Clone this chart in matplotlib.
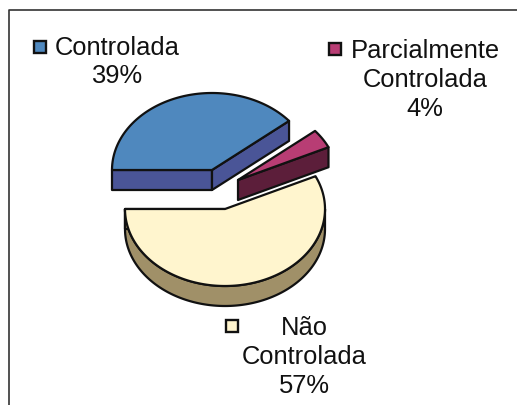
import numpy as np
import matplotlib
matplotlib.use("Agg")
import matplotlib.pyplot as plt
from matplotlib.patches import Polygon, Rectangle

categories = ["Controlada", "Parcialmente\nControlada", "Não\nControlada"]
values = [39, 4, 57]
face_colors = ["#4F88BE", "#B83D74", "#FFF5CE"]
side_colors = ["#4A5597", "#5C1E3A", "#A09068"]

# layout, in pixels
centers = [(212, 171), (238, 181), (225, 210)]
label_pos = [(117, 62), (425, 80), (304, 357)]
marker_pos = [(40, 48), (335, 50), (232, 327)]
RX, RY, DEPTH = 100, 77, 20
START = 180.0
EDGE = "#111111"

plt.rcParams["font.family"] = ["Liberation Sans", "DejaVu Sans"]
fig = plt.figure(figsize=(5.17, 4.06), dpi=100)
ax = fig.add_axes([0, 0, 1, 1])
ax.set_xlim(0, 517)
ax.set_ylim(406, 0)
ax.axis("off")

ax.plot([9, 9, 517], [406, 11, 11], color="#333333", lw=1.2, zorder=1)


def arc(c, a0, a1, dy=0):
    t = np.radians(np.linspace(a0, a1, max(3, int(abs(a1 - a0)))))
    return np.column_stack([c[0] + RX * np.cos(t), c[1] - RY * np.sin(t) + dy])


def draw_slice(c, a0, a1, face, side, z):
    """Slice runs clockwise from a0 to a1 (degrees, a0 > a1)."""
    # outer rim, only where it faces the viewer (sin < 0)
    lo, hi = max(a1, -180), min(a0, 0)
    if a0 >= 180 and a1 < 0:
        lo, hi = a1 if a1 > -180 else -180, 0
    if lo < hi:
        top = arc(c, hi, lo)
        ax.add_patch(Polygon(np.vstack([top, arc(c, lo, hi, DEPTH)]), closed=True,
                             fc=side, ec=EDGE, lw=1.6, joinstyle="round", zorder=z))
    # radial walls
    apex = np.array([c])
    for a in (a0, a1):
        p = arc(c, a, a)[:1]
        wall = np.vstack([apex, p, p + [0, DEPTH], apex + [0, DEPTH]])
        if a in (a0,) and np.cos(np.radians(a)) > 0:
            continue
        ax.add_patch(Polygon(wall, closed=True, fc=side, ec=EDGE, lw=1.6,
                             joinstyle="round", zorder=z))
    # top face
    ax.add_patch(Polygon(np.vstack([apex, arc(c, a0, a1)]), closed=True,
                         fc=face, ec=EDGE, lw=1.6, joinstyle="round", zorder=z + 1))


angle = START
total = sum(values)
for i, v in enumerate(values):
    sweep = 360.0 * v / total
    a0, a1 = angle, angle - sweep
    z = 10 + i * 3
    if i == 2:
        z = 5
    draw_slice(centers[i], a0, a1, face_colors[i], side_colors[i], z)
    angle = a1

for cat, v, lp, mp, col in zip(categories, values, label_pos, marker_pos, face_colors):
    ax.text(lp[0], lp[1], f"{cat}\n{v}%", ha="center", va="center", fontsize=18.4,
            color="#111111", linespacing=1.25, zorder=30)
    ax.add_patch(Rectangle((mp[0] - 6, mp[1] - 6), 12, 12, fc=col, ec=EDGE, lw=1.7, zorder=30))

fig.savefig("out.png", dpi=100, facecolor="white")
